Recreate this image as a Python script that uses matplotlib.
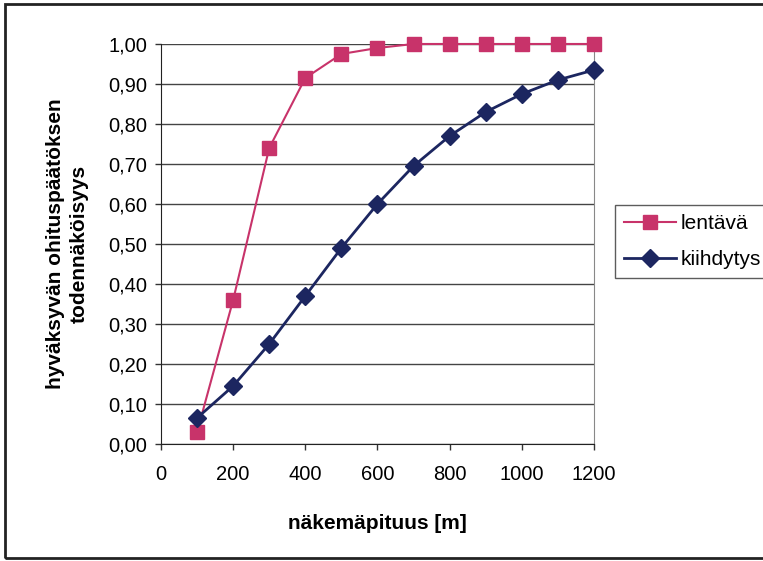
import matplotlib.pyplot as plt
from matplotlib.patches import Rectangle
from matplotlib.ticker import FuncFormatter

# naekemaepituus [m]
pituus = [100, 200, 300, 400, 500, 600, 700, 800, 900, 1000, 1100, 1200]
lentava = [0.03, 0.36, 0.74, 0.915, 0.975, 0.99, 1.0, 1.0, 1.0, 1.0, 1.0, 1.0]
kiihdytys = [0.065, 0.145, 0.25, 0.37, 0.49, 0.60, 0.695, 0.77, 0.83, 0.875, 0.91, 0.935]

plt.rcParams['font.family'] = ['Liberation Sans', 'DejaVu Sans']

fig = plt.figure(figsize=(7.63, 5.61), dpi=100)
ax = fig.add_axes([0.211, 0.2086, 0.5675, 0.713])

ax.plot(pituus, lentava, color='#c8336a', lw=1.5, marker='s', markersize=10,
        label='lentävä', clip_on=False, zorder=3)
ax.plot(pituus, kiihdytys, color='#1c2660', lw=2, marker='D', markersize=9,
        label='kiihdytys', clip_on=False, zorder=3)

ax.set_xlim(0, 1200)
ax.set_ylim(0, 1.0)
ax.set_xticks(range(0, 1201, 200))
ax.set_yticks([i / 10 for i in range(11)])
ax.yaxis.set_major_formatter(FuncFormatter(lambda v, p: ('%.2f' % v).replace('.', ',')))
ax.tick_params(labelsize=14.5, length=4, width=1, color='#333333')
ax.tick_params(axis='x', pad=11)
ax.tick_params(axis='y', pad=6)
ax.grid(axis='y', color='#444444', lw=1)
ax.set_axisbelow(True)
ax.spines['top'].set_visible(False)
ax.spines['right'].set_color('#888888')
for s in ['left', 'bottom']:
    ax.spines[s].set_color('#222222')

ax.set_xlabel('näkemäpituus [m]', fontsize=15, fontweight='bold', labelpad=22)
ax.set_ylabel('hyväksyvän ohituspäätöksen\ntodennäköisyys', fontsize=15,
              fontweight='bold', labelpad=14, linespacing=1.3)

leg = fig.legend(loc='upper left', bbox_to_anchor=(615 / 763, 1 - 205 / 561),
                 fontsize=15, frameon=True, fancybox=False, edgecolor='#333333',
                 handlelength=2.5, handletextpad=0.2, borderpad=0.45,
                 labelspacing=0.8, borderaxespad=0)
leg.get_frame().set_linewidth(1)

# outer chart frame
fig.patches.append(Rectangle((5 / 763, 3 / 561), 1.0, 1 - 7 / 561,
                             transform=fig.transFigure, fill=False,
                             edgecolor='#222222', lw=2))

fig.savefig('out.png', dpi=100)
